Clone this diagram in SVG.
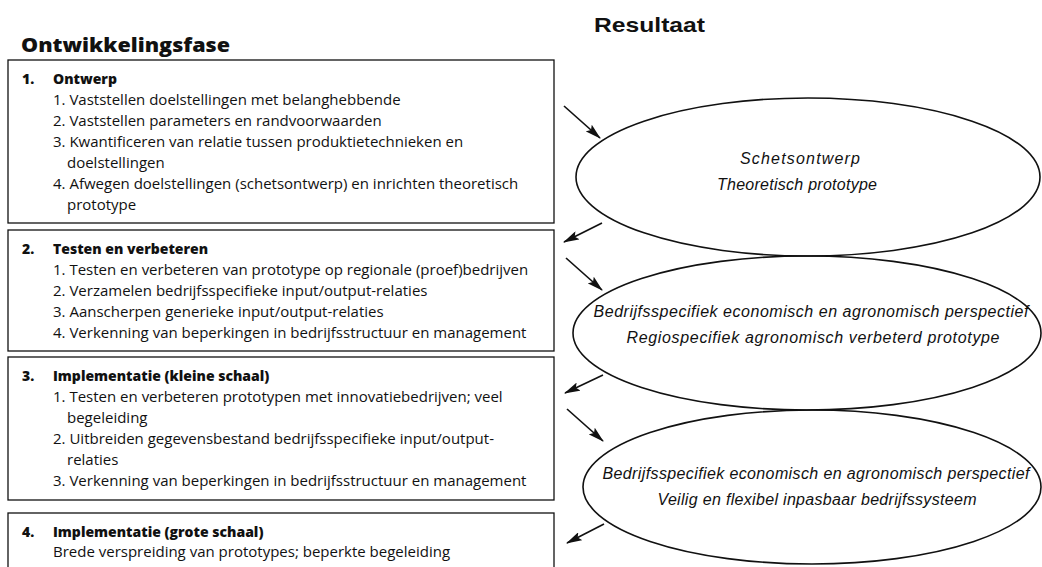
<svg xmlns="http://www.w3.org/2000/svg" width="1042" height="567" viewBox="0 0 1042 567">
<style>
.title{font-family:"Open Sans","Noto Sans",sans-serif;font-weight:800;font-size:19px;fill:#111}
.res{font-family:"Liberation Sans",Arial,sans-serif;font-weight:700;font-size:21px;fill:#111}
.box{fill:#fff;stroke:#111;stroke-width:1.3}
.h{font-family:"Open Sans","Noto Sans",sans-serif;font-weight:800;font-size:14px;fill:#111}
.t{font-family:"Open Sans","Noto Sans",sans-serif;font-size:15px;fill:#111}
.ell{fill:none;stroke:#111;stroke-width:1.6}
.e{font-family:"Liberation Sans",Arial,sans-serif;font-style:italic;font-size:16px;fill:#111;text-anchor:middle}
.arr{stroke:#111;stroke-width:1.6;fill:none;marker-end:url(#ah)}
</style>
<defs>
<marker id="ah" markerWidth="16" markerHeight="9" refX="15" refY="4.5" orient="auto" markerUnits="userSpaceOnUse">
<path d="M0,0 L16,4.5 L0,9 L3,4.5 z" fill="#111"/>
</marker>
</defs>
<rect width="1042" height="567" fill="#fff"/>
<text class="res" x="594" y="32" textLength="111" lengthAdjust="spacingAndGlyphs">Resultaat</text>
<text class="title" x="21" y="52" textLength="209" lengthAdjust="spacingAndGlyphs">Ontwikkelingsfase</text>

<g id="box1">
<rect class="box" x="8" y="60" width="546" height="163"/>
<text class="h" x="22" y="84">1.</text><text class="h" x="53" y="84">Ontwerp</text>
<text class="t" x="53" y="105">1. Vaststellen doelstellingen met belanghebbende</text>
<text class="t" x="53" y="126">2. Vaststellen parameters en randvoorwaarden</text>
<text class="t" x="53" y="147">3. Kwantificeren van relatie tussen produktietechnieken en</text>
<text class="t" x="67" y="168">doelstellingen</text>
<text class="t" x="53" y="189">4. Afwegen doelstellingen (schetsontwerp) en inrichten theoretisch</text>
<text class="t" x="67" y="210">prototype</text>
</g>

<g id="box2">
<rect class="box" x="8" y="230" width="546" height="121"/>
<text class="h" x="22" y="254">2.</text><text class="h" x="53" y="254">Testen en verbeteren</text>
<text class="t" x="53" y="275">1. Testen en verbeteren van prototype op regionale (proef)bedrijven</text>
<text class="t" x="53" y="296">2. Verzamelen bedrijfsspecifieke input/output-relaties</text>
<text class="t" x="53" y="317">3. Aanscherpen generieke input/output-relaties</text>
<text class="t" x="53" y="338">4. Verkenning van beperkingen in bedrijfsstructuur en management</text>
</g>

<g id="box3">
<rect class="box" x="8" y="357" width="546" height="143"/>
<text class="h" x="22" y="381">3.</text><text class="h" x="53" y="381">Implementatie (kleine schaal)</text>
<text class="t" x="53" y="402">1. Testen en verbeteren prototypen met innovatiebedrijven; veel</text>
<text class="t" x="67" y="423">begeleiding</text>
<text class="t" x="53" y="444">2. Uitbreiden gegevensbestand bedrijfsspecifieke input/output-</text>
<text class="t" x="67" y="465">relaties</text>
<text class="t" x="53" y="486">3. Verkenning van beperkingen in bedrijfsstructuur en management</text>
</g>

<g id="box4">
<rect class="box" x="8" y="513" width="546" height="70"/>
<text class="h" x="22" y="537">4.</text><text class="h" x="53" y="537">Implementatie (grote schaal)</text>
<text class="t" x="53" y="557">Brede verspreiding van prototypes; beperkte begeleiding</text>
</g>

<g id="res1">
<ellipse class="ell" cx="808" cy="177" rx="232" ry="79"/>
<text class="e" x="800" y="164" textLength="120" lengthAdjust="spacing">Schetsontwerp</text>
<text class="e" x="797" y="190" textLength="160" lengthAdjust="spacing">Theoretisch prototype</text>
</g>
<g id="res2">
<ellipse class="ell" cx="807" cy="333" rx="234" ry="77"/>
<text class="e" x="811" y="317" textLength="435" lengthAdjust="spacing">Bedrijfsspecifiek economisch en agronomisch perspectief</text>
<text class="e" x="813" y="343" textLength="373" lengthAdjust="spacing">Regiospecifiek agronomisch verbeterd prototype</text>
</g>
<g id="res3">
<ellipse class="ell" cx="812" cy="487" rx="229" ry="77"/>
<text class="e" x="816" y="479" textLength="427" lengthAdjust="spacing">Bedrijfsspecifiek economisch en agronomisch perspectief</text>
<text class="e" x="817" y="505" textLength="319" lengthAdjust="spacing">Veilig en flexibel inpasbaar bedrijfssysteem</text>
</g>

<g id="connectors">
<line class="arr" x1="564" y1="106" x2="600" y2="138"/>
<line class="arr" x1="602" y1="223" x2="564" y2="242"/>
<line class="arr" x1="566" y1="258" x2="602" y2="290"/>
<line class="arr" x1="603" y1="375" x2="565" y2="393"/>
<line class="arr" x1="567" y1="409" x2="603" y2="441"/>
<line class="arr" x1="604" y1="524" x2="567" y2="543"/>
</g>
</svg>
